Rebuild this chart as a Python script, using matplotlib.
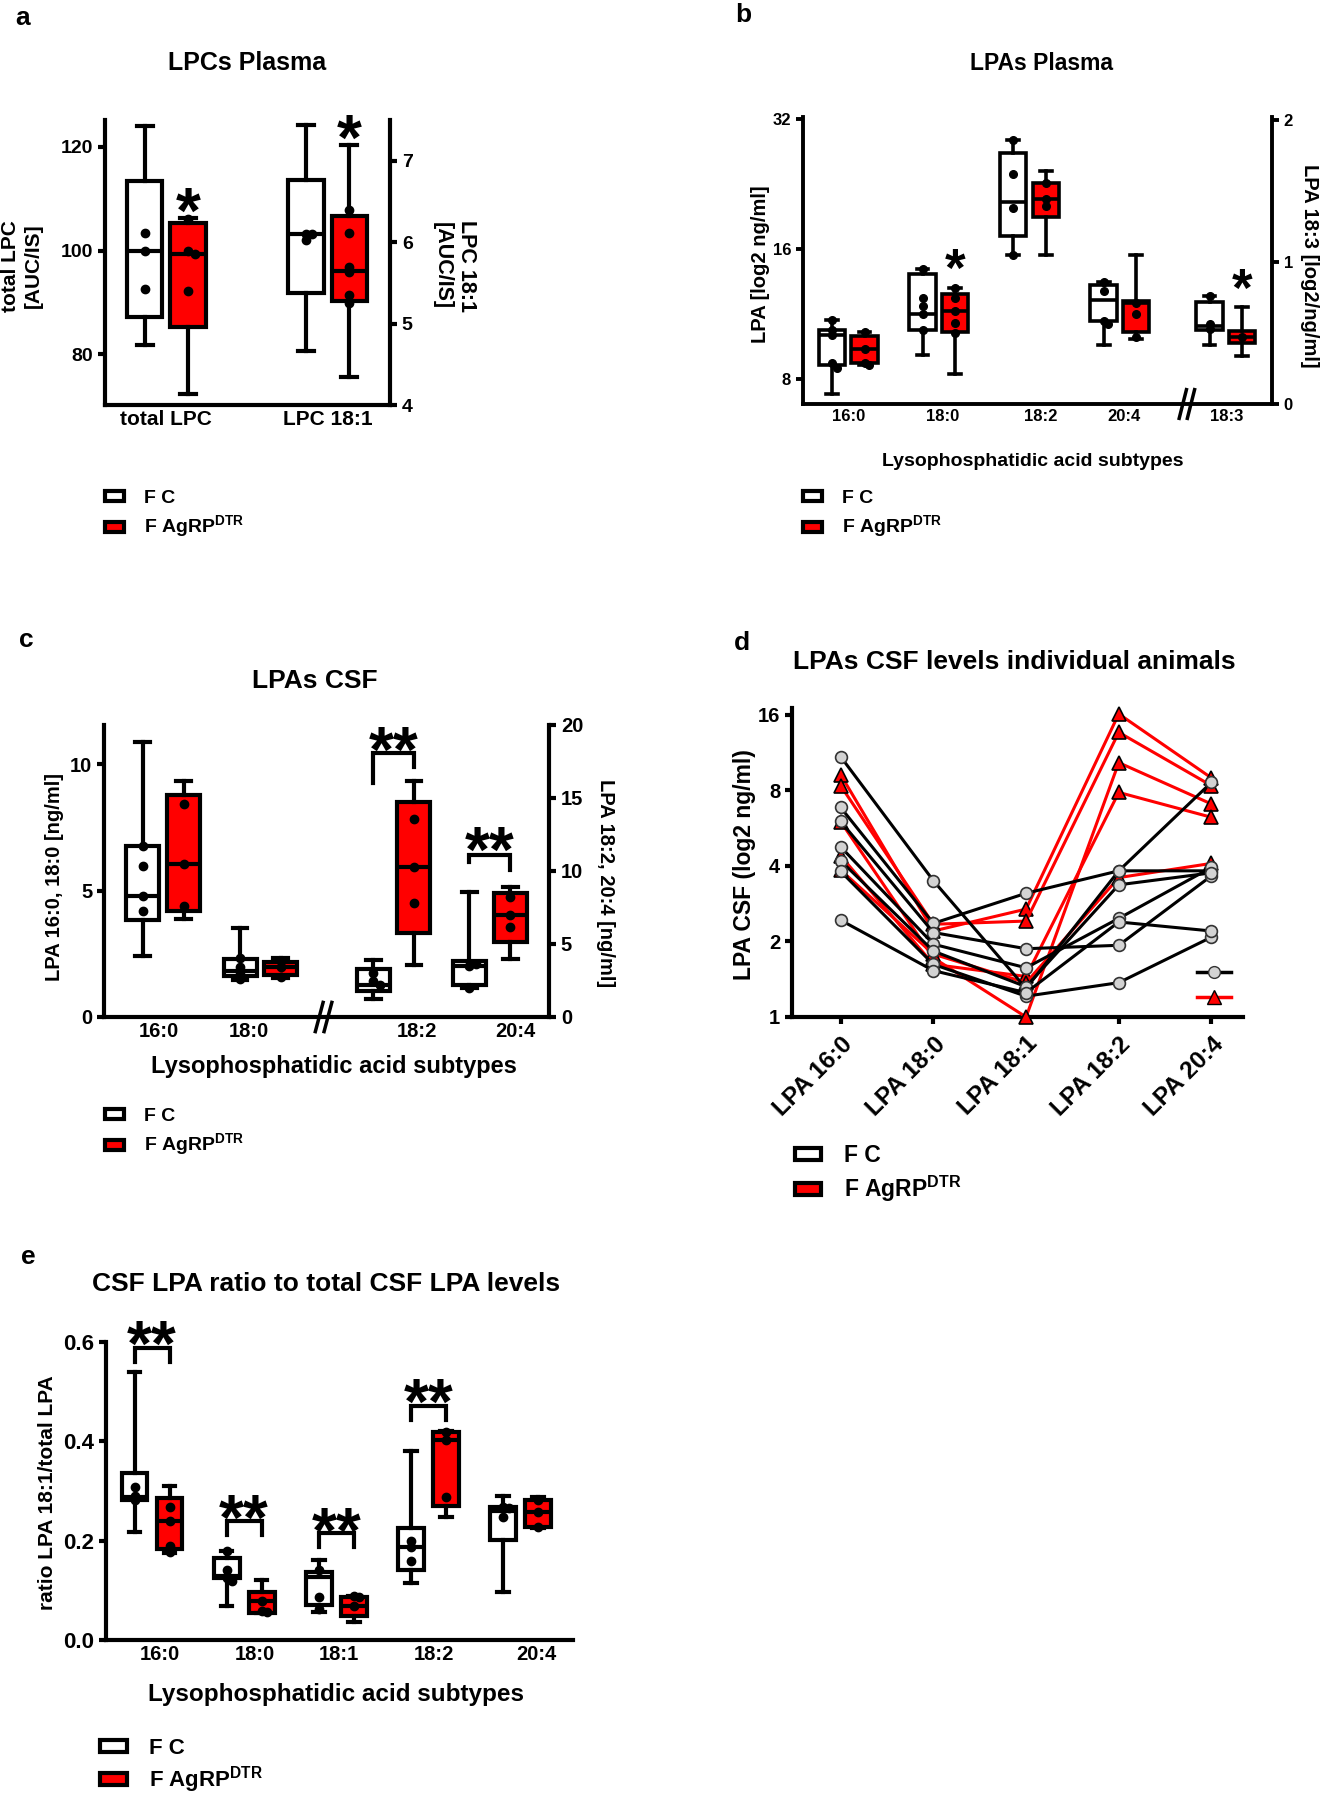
import numpy as np
import matplotlib.pyplot as plt
from matplotlib.patches import Patch
from matplotlib.lines import Line2D
from matplotlib import transforms

plt.rcParams['font.family'] = ['Liberation Sans', 'DejaVu Sans']
plt.rcParams['font.weight'] = 'bold'
plt.rcParams['mathtext.fontset'] = 'custom'
plt.rcParams['mathtext.rm'] = 'Liberation Sans:bold'
plt.rcParams['mathtext.bf'] = 'Liberation Sans:bold'

W, H = 1321, 1800
RED = '#ff0000'
GREY = '#d3d3d3'

# =============================================================================
# Data  (box stats = [whisker low, q1, median, q3, whisker high])
# =============================================================================
# a - LPCs plasma (total LPC on left axis, LPC 18:1 on right axis)
a_labels = ['total LPC', 'LPC 18:1']
a_fc_total = [81.7, 87.2, 100.0, 113.4, 124.1]
a_ag_total = [72.4, 85.2, 99.3, 105.3, 106.2]
a_fc_181 = [4.66, 5.37, 6.10, 6.76, 7.44]
a_ag_181 = [4.35, 5.28, 5.65, 6.32, 7.19]
a_fc_total_pts = [103.4, 100.0, 92.5]
a_ag_total_pts = [106.0, 100.0, 99.3, 92.2]
a_fc_181_pts = [6.10, 6.03, 6.10]
a_ag_181_pts = [6.40, 6.11, 5.69, 5.63, 5.35, 5.25]
a_star = [110.5, 7.46]

# b - LPAs plasma (16:0, 18:0, 18:2, 20:4 log2 left axis; 18:3 right axis)
b_labels = ['16:0', '18:0', '18:2', '20:4', '18:3']
b_fc = [[7.4, 8.6, 10.1, 10.4, 10.95],
        [9.1, 10.4, 11.3, 14.0, 14.4],
        [15.5, 17.1, 20.5, 26.7, 28.5],
        [9.6, 10.9, 12.2, 13.2, 13.4]]
b_ag = [[8.6, 8.7, 9.4, 10.07, 10.3],
        [8.2, 10.3, 11.5, 12.6, 13.0],
        [15.5, 19.0, 20.9, 22.7, 24.2],
        [9.9, 10.3, 12.0, 12.1, 15.5]]
b_fc_183 = [0.415, 0.522, 0.547, 0.720, 0.758]
b_ag_183 = [0.335, 0.430, 0.472, 0.514, 0.683]
b_fc_pts = [[10.95, 10.4, 10.1, 8.7, 8.5],
            [14.4, 12.3, 11.8, 11.3, 10.4],
            [28.5, 23.8, 19.9, 15.5],
            [13.4, 12.8, 10.9, 10.7]]
b_ag_pts = [[10.3, 9.4, 8.7, 8.6],
            [13.0, 12.3, 11.5, 10.8, 10.2],
            [22.7, 20.9, 20.1],
            [12.0, 11.3, 10.0]]
b_fc_183_pts = [0.758, 0.56, 0.53]
b_ag_183_pts = [0.472]
b_star = [15.4, 0.90]

# c - LPAs CSF (16:0, 18:0 left axis; 18:2, 20:4 right axis)
c_labels = ['16:0', '18:0', '18:2', '20:4']
c_fc_left = [[2.41, 3.83, 4.78, 6.78, 10.88],
             [1.45, 1.63, 1.80, 2.31, 3.52]]
c_ag_left = [[3.86, 4.18, 6.06, 8.79, 9.32],
             [1.56, 1.67, 1.96, 2.16, 2.34]]
c_fc_right = [[1.23, 1.80, 2.21, 3.32, 3.89],
              [1.97, 2.20, 3.50, 3.81, 8.56]]
c_ag_right = [[3.57, 5.73, 10.28, 14.76, 16.19],
              [3.99, 5.17, 7.01, 8.49, 8.90]]
c_fc_left_pts = [[5.96, 4.78, 4.18, 6.78], [2.34, 1.97, 1.78, 1.50]]
c_ag_left_pts = [[8.41, 6.06, 4.40], [2.20, 1.96, 1.60]]
c_fc_right_pts = [[2.46, 2.21, 3.00], [3.49, 3.60, 2.00]]
c_ag_right_pts = [[13.58, 10.28, 7.80], [8.24, 7.01, 6.15]]
c_sig_top = [18.1, 11.1]       # bracket heights (right axis)
c_sig_legs = [[16.0, 17.1], [10.6, 10.1]]
c_sig_star = [19.3, 12.4]

# d - individual animals (log2)
d_labels = ['LPA 16:0', 'LPA 18:0', 'LPA 18:1', 'LPA 18:2', 'LPA 20:4']
d_fc = [[10.88, 3.49, 1.30, 3.82, 8.60],
        [6.83, 2.36, 3.11, 3.82, 3.82],
        [6.01, 2.17, 1.87, 1.93, 3.65],
        [4.76, 1.95, 1.57, 2.47, 3.94],
        [4.19, 1.83, 1.32, 3.36, 3.75],
        [3.80, 1.62, 1.21, 1.37, 2.08],
        [2.43, 1.53, 1.25, 2.39, 2.20]]
d_ag = [[9.22, 2.20, 2.69, 16.1, 8.95],
        [8.34, 2.34, 2.41, 13.6, 8.34],
        [6.00, 1.72, 1.00, 10.3, 7.05],
        [4.38, 1.62, 1.45, 7.84, 6.24],
        [3.85, 1.78, 1.37, 3.59, 4.09]]

# e - ratio to total CSF LPA
e_labels = ['16:0', '18:0', '18:1', '18:2', '20:4']
e_fc = [[0.217, 0.282, 0.288, 0.337, 0.540],
        [0.068, 0.124, 0.129, 0.166, 0.180],
        [0.057, 0.070, 0.126, 0.137, 0.162],
        [0.115, 0.140, 0.188, 0.225, 0.380],
        [0.097, 0.201, 0.260, 0.268, 0.289]]
e_ag = [[0.175, 0.184, 0.239, 0.286, 0.310],
        [0.055, 0.055, 0.079, 0.097, 0.121],
        [0.036, 0.049, 0.068, 0.087, 0.089],
        [0.247, 0.269, 0.402, 0.419, 0.420],
        [0.225, 0.228, 0.257, 0.281, 0.288]]
e_fc_pts = [[0.308, 0.290, 0.282], [0.180, 0.140, 0.125, 0.118],
            [0.140, 0.087, 0.062], [0.199, 0.188, 0.159], [0.268, 0.247, 0.265]]
e_ag_pts = [[0.268, 0.239, 0.190, 0.178], [0.079, 0.058, 0.057],
            [0.089, 0.068, 0.087], [0.419, 0.402, 0.288], [0.281, 0.257, 0.228]]
e_sig_groups = [0, 1, 2, 3]
e_sig_top = [0.588, 0.240, 0.215, 0.471]
e_sig_leg = [0.559, 0.211, 0.188, 0.442]
e_sig_star = [0.624, 0.275, 0.249, 0.508]


# =============================================================================
# helpers
# =============================================================================
def fx(px):
    return px / W


def fy(py):
    return 1 - py / H


def jitter(vals, tol, dx):
    offs = []
    for i, v in enumerate(vals):
        n = sum(1 for w in vals[:i] if abs(w - v) < tol)
        offs.append([0, dx, -dx, 2 * dx][n % 4])
    return offs


def boxes(ax, stats, xs, width, color, lw=3.0):
    st = [dict(whislo=s[0], q1=s[1], med=s[2], q3=s[3], whishi=s[4], fliers=[]) for s in stats]
    ax.bxp(st, positions=xs, widths=width, capwidths=width * 0.45, patch_artist=True,
           showfliers=False, manage_ticks=False,
           boxprops=dict(facecolor=color, edgecolor='black', linewidth=lw),
           medianprops=dict(color='black', linewidth=lw, solid_capstyle='butt'),
           whiskerprops=dict(color='black', linewidth=lw),
           capprops=dict(color='black', linewidth=lw))


def dots(ax, x, vals, tol, dx, ms=6):
    offs = jitter(vals, tol, dx)
    ax.plot([x + o for o in offs], vals, 'o', color='black', ms=ms, zorder=6, clip_on=False)


def style(ax, right=None, lw=3.0):
    for s in ['top', 'right']:
        ax.spines[s].set_visible(False)
    for s in ['left', 'bottom']:
        ax.spines[s].set_linewidth(lw)
    ax.tick_params(axis='y', length=5, width=lw, direction='out')
    ax.tick_params(axis='x', length=0)
    if right is not None:
        for s in ['top', 'left', 'bottom']:
            right.spines[s].set_visible(False)
        right.spines['right'].set_linewidth(lw)
        right.tick_params(axis='y', length=5, width=lw, direction='out')


def group_legend(ax, x, y, fs, hl=1.0, sp=0.35, lw=3):
    hs = [Patch(facecolor='white', edgecolor='black', lw=lw),
          Patch(facecolor=RED, edgecolor='black', lw=lw)]
    return ax.legend(hs, ['F C', r'F AgRP$^{\mathbf{DTR}}$'], loc='upper left',
                     bbox_to_anchor=(fx(x), fy(y)), bbox_transform=fig.transFigure,
                     frameon=False, fontsize=fs, handlelength=hl, handleheight=0.42,
                     borderpad=0, borderaxespad=0, labelspacing=sp, handletextpad=1.0)


def axis_break(ax, xb):
    tr = transforms.blended_transform_factory(ax.transData, ax.transAxes)
    for d in [-0.045, 0.045]:
        ax.plot([xb + d - 0.04, xb + d + 0.04], [-0.05, 0.05], color='black', lw=2.5,
                transform=tr, clip_on=False, zorder=10)


def stars(ax, x, y, s, fs):
    # y is the visual centre of the asterisks
    tr = transforms.offset_copy(ax.transData, fig=fig, y=-0.30 * fs, units='points')
    ax.text(x, y, s, ha='center', va='center', fontsize=fs, fontweight='bold',
            transform=tr, clip_on=False)


fig = plt.figure(figsize=(W / 100, H / 100), dpi=100)

# =============================================================================
# a
# =============================================================================
ax = fig.add_axes([fx(105), fy(405), 285 / W, 285 / H])
ax2 = ax.twinx()
off, bw = 0.135, 0.22
boxes(ax, [a_fc_total], [0 - off], bw, 'white')
boxes(ax, [a_ag_total], [0 + off], bw, RED)
boxes(ax2, [a_fc_181], [1 - off], bw, 'white')
boxes(ax2, [a_ag_181], [1 + off], bw, RED)
dots(ax, 0 - off, a_fc_total_pts, 1.0, 0.04)
dots(ax, 0 + off, a_ag_total_pts, 1.0, 0.04)
dots(ax2, 1 - off, a_fc_181_pts, 0.05, 0.04)
dots(ax2, 1 + off, a_ag_181_pts, 0.05, 0.04)
ax.set_xlim(-0.38, 1.387)
ax.set_ylim(70.2, 125.2)
ax2.set_ylim(4, 7.5)
ax.set_yticks([80, 100, 120])
ax2.set_yticks([4, 5, 6, 7])
ax.set_xticks([0, 1])
ax.set_xticklabels(a_labels, fontsize=15)
ax.tick_params(axis='y', labelsize=14)
ax2.tick_params(axis='y', labelsize=14)
style(ax, ax2)
stars(ax, 0 + off, a_star[0], '*', 46)
stars(ax2, 1 + off, a_star[1], '*', 46)
fig.text(fx(22), fy(266), 'total LPC\n[AUC/IS]', rotation=90, ha='center', va='center', fontsize=15)
fig.text(fx(454), fy(266), 'LPC 18:1\n[AUC/IS]', rotation=270, ha='center', va='center', fontsize=15.5)
fig.text(fx(247), fy(63), 'LPCs Plasma', ha='center', va='center', fontsize=18)
fig.text(fx(23), fy(18), 'a', ha='center', va='center', fontsize=19)
group_legend(ax, 105, 490, 14)

# =============================================================================
# b
# =============================================================================
ax = fig.add_axes([fx(803), fy(404), 469 / W, 287 / H])
ax2 = ax.twinx()
off, bw = 0.18, 0.29
xs = np.arange(4)
boxes(ax, b_fc, xs - off, bw, 'white', 2.6)
boxes(ax, b_ag, xs + off, bw, RED, 2.6)
boxes(ax2, [b_fc_183], [4.17 - off], bw, 'white', 2.6)
boxes(ax2, [b_ag_183], [4.17 + off], bw, RED, 2.6)
for i in range(4):
    dots(ax, i - off, b_fc_pts[i], 0.3, 0.05, 5.5)
    dots(ax, i + off, b_ag_pts[i], 0.3, 0.05, 5.5)
dots(ax2, 4.17 - off, b_fc_183_pts, 0.02, 0.05, 5.5)
dots(ax2, 4.17 + off, b_ag_183_pts, 0.02, 0.05, 5.5)
ax.set_yscale('log', base=2)
ax.set_ylim(7, 32.3)
ax.set_yticks([8, 16, 32])
ax.set_yticklabels(['8', '16', '32'])
ax.minorticks_off()
ax2.set_ylim(0, 2.02)
ax2.set_yticks([0, 1, 2])
ax.set_xlim(-0.5, 4.68)
ax.set_xticks([0.005, 1.04, 2.12, 3.04, 4.18])
ax.set_xticklabels(b_labels, fontsize=12)
ax.tick_params(axis='y', labelsize=12)
ax2.tick_params(axis='y', labelsize=12)
style(ax, ax2, 2.8)
axis_break(ax, 3.74)
stars(ax, 1 + off, b_star[0], '*', 38)
stars(ax2, 4.17 + off, b_star[1], '*', 38)
fig.text(fx(760), fy(264), 'LPA [log2 ng/ml]', rotation=90, ha='center', va='center', fontsize=14.5)
fig.text(fx(1309), fy(266), 'LPA 18:3 [log2/ng/ml]', rotation=270, ha='center', va='center', fontsize=14.5)
fig.text(fx(1041), fy(63), 'LPAs Plasma', ha='center', va='center', fontsize=16.5)
fig.text(fx(1033), fy(461), 'Lysophosphatidic acid subtypes', ha='center', va='center', fontsize=14)
fig.text(fx(743), fy(15), 'b', ha='center', va='center', fontsize=19)
group_legend(ax, 803, 490, 14)

# =============================================================================
# c
# =============================================================================
ax = fig.add_axes([fx(104), fy(1017), 445 / W, 292 / H])
ax2 = ax.twinx()
off, bw = 0.21, 0.34
c_pos = [0, 1.0, 2.37, 3.36]
boxes(ax, c_fc_left, [c_pos[0] - off, c_pos[1] - off], bw, 'white')
boxes(ax, c_ag_left, [c_pos[0] + off, c_pos[1] + off], bw, RED)
boxes(ax2, c_fc_right, [c_pos[2] - off, c_pos[3] - off], bw, 'white')
boxes(ax2, c_ag_right, [c_pos[2] + off, c_pos[3] + off], bw, RED)
for i in range(2):
    dots(ax, c_pos[i] - off, c_fc_left_pts[i], 0.15, 0.07)
    dots(ax, c_pos[i] + off, c_ag_left_pts[i], 0.15, 0.07)
    dots(ax2, c_pos[i + 2] - off, c_fc_right_pts[i], 0.3, 0.07)
    dots(ax2, c_pos[i + 2] + off, c_ag_right_pts[i], 0.3, 0.07)
for i in range(2):
    xl, xr = c_pos[i + 2] - off, c_pos[i + 2] + off
    ax2.plot([xl, xl, xr, xr], [c_sig_legs[i][0], c_sig_top[i], c_sig_top[i], c_sig_legs[i][1]],
             color='black', lw=3, solid_joinstyle='miter')
    stars(ax2, (xl + xr) / 2, c_sig_star[i], '**', 46)
ax.set_xlim(-0.61, 3.97)
ax.set_ylim(0, 11.55)
ax2.set_ylim(0, 20)
ax.set_yticks([0, 5, 10])
ax2.set_yticks([0, 5, 10, 15, 20])
ax.set_xticks([-0.05, 0.88, 2.61, 3.62])
ax.set_xticklabels(c_labels, fontsize=14.5)
ax.tick_params(axis='y', labelsize=14.5)
ax2.tick_params(axis='y', labelsize=14.5)
style(ax, ax2)
axis_break(ax, 1.65)
fig.text(fx(55), fy(877), 'LPA 16:0, 18:0 [ng/ml]', rotation=90, ha='center', va='center', fontsize=14.5)
fig.text(fx(606), fy(883), 'LPA 18:2, 20:4 [ng/ml]', rotation=270, ha='center', va='center', fontsize=14.5)
fig.text(fx(315), fy(681), 'LPAs CSF', ha='center', va='center', fontsize=19)
fig.text(fx(334), fy(1066), 'Lysophosphatidic acid subtypes', ha='center', va='center', fontsize=17)
fig.text(fx(26), fy(640), 'c', ha='center', va='center', fontsize=19)
group_legend(ax, 105, 1108, 14)

# =============================================================================
# d
# =============================================================================
ax = fig.add_axes([fx(792), fy(1017), 451 / W, 309 / H])
xs = np.arange(5)
for v in d_ag:
    ax.plot(xs, v, color=RED, lw=2.2, marker='^', ms=10, mfc=RED, mec='black', mew=1.2,
            clip_on=False, zorder=3)
for v in d_fc:
    ax.plot(xs, v, color='black', lw=2.2, marker='o', ms=8.5, mfc=GREY, mec='#333333', mew=1.2,
            clip_on=False, zorder=4)
ax.set_yscale('log', base=2)
ax.set_ylim(1, 17)
ax.set_yticks([1, 2, 4, 8, 16])
ax.set_yticklabels(['1', '2', '4', '8', '16'])
ax.minorticks_off()
ax.set_xlim(-0.525, 4.34)
ax.set_xticks(xs)
ax.set_xticklabels(d_labels, rotation=45, ha='right', rotation_mode='anchor', fontsize=17.5)
style(ax)
ax.tick_params(axis='y', labelsize=14.5)
ax.tick_params(axis='x', length=5, width=3, direction='out', pad=6)
mk = [Line2D([], [], color='black', lw=2.5, marker='o', ms=8.5, mfc=GREY, mec='#333333'),
      Line2D([], [], color=RED, lw=2.5, marker='^', ms=10.5, mfc=RED, mec='black')]
leg_m = ax.legend(mk, ['', ''], loc='center', bbox_to_anchor=(fx(1214), fy(986)),
                  bbox_transform=fig.transFigure, frameon=False, fontsize=12,
                  handlelength=2.0, handletextpad=0, borderpad=0, labelspacing=0.6)
ax.add_artist(leg_m)
fig.text(fx(744), fy(865), 'LPA CSF (log2 ng/ml)', rotation=90, ha='center', va='center', fontsize=16.5)
fig.text(fx(1014), fy(662), 'LPAs CSF levels individual animals', ha='center', va='center', fontsize=19)
fig.text(fx(742), fy(643), 'd', ha='center', va='center', fontsize=19)
group_legend(ax, 795, 1144, 16.5, hl=1.15, sp=0.3)

# =============================================================================
# e
# =============================================================================
ax = fig.add_axes([fx(106), fy(1640), 467 / W, 298 / H])
off, bw = 0.19, 0.28
xs = np.arange(5)
boxes(ax, e_fc, xs - off, bw, 'white')
boxes(ax, e_ag, xs + off, bw, RED)
for i in range(5):
    dots(ax, i - off, e_fc_pts[i], 0.008, 0.06)
    dots(ax, i + off, e_ag_pts[i], 0.008, 0.06)
for g, top, leg, sy in zip(e_sig_groups, e_sig_top, e_sig_leg, e_sig_star):
    xl, xr = g - off, g + off
    ax.plot([xl, xl, xr, xr], [leg, top, top, leg], color='black', lw=3,
            solid_joinstyle='miter', clip_on=False)
    stars(ax, g, sy, '**', 46)
ax.set_xlim(-0.5, 4.57)
ax.set_ylim(0, 0.6)
ax.set_yticks([0, 0.2, 0.4, 0.6])
ax.set_yticklabels(['0.0', '0.2', '0.4', '0.6'])
ax.set_xticks([0.09, 1.12, 2.03, 3.06, 4.17])
ax.set_xticklabels(e_labels, fontsize=14.5)
style(ax)
ax.tick_params(axis='y', labelsize=16)
fig.text(fx(48), fy(1493), 'ratio LPA 18:1/total LPA', rotation=90, ha='center', va='center', fontsize=15)
fig.text(fx(326), fy(1284), 'CSF LPA ratio to total CSF LPA levels', ha='center', va='center', fontsize=19)
fig.text(fx(336), fy(1695), 'Lysophosphatidic acid subtypes', ha='center', va='center', fontsize=17.5)
fig.text(fx(28), fy(1257), 'e', ha='center', va='center', fontsize=19)
group_legend(ax, 100, 1738, 16, hl=1.2, sp=0.25)

fig.savefig('out.png', dpi=100)
